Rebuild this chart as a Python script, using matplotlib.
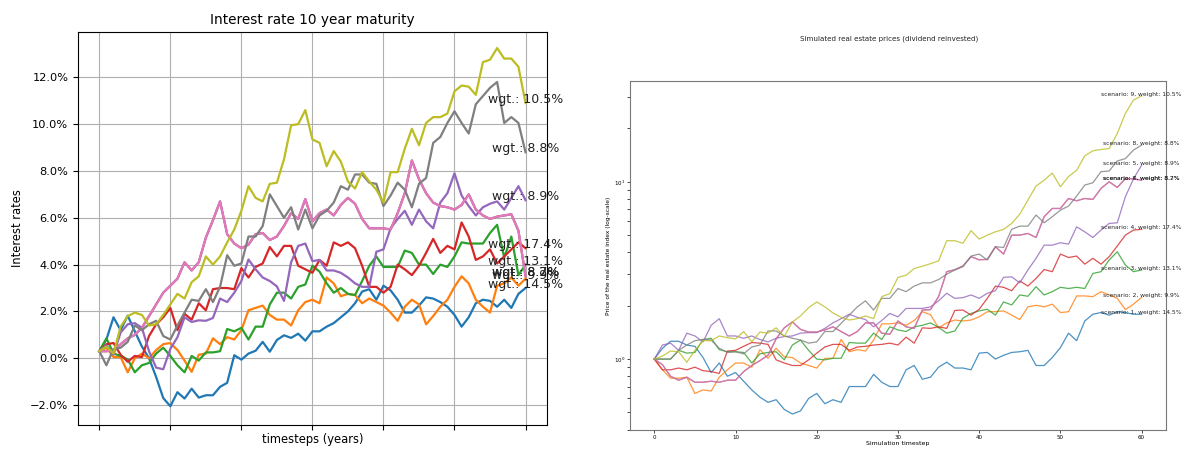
import numpy as np; import matplotlib.pyplot as plt
from matplotlib.ticker import PercentFormatter

t = np.arange(61)
W = [14.5, 9.9, 13.1, 17.4, 8.9, 8.7, 8.2, 8.8, 10.5]  # weight per scenario (%)

# interest rate 10y maturity (%), scenario 1..9
r1 = [0.3, 0.8, 1.75, 1.2, 1.82, 1.15, 0.5, 0.0, -0.8, -1.7, -2.05, -1.45, -1.72, -1.3, -1.68, -1.58, -1.58, -1.22, -1.05, 0.13,
      -0.06, 0.2, 0.32, 0.7, 0.28, 0.78, 0.98, 0.87, 1.05, 0.75, 1.15, 1.15, 1.35, 1.5, 1.75, 2.0, 2.35, 2.85, 2.95, 2.5,
      3.1, 2.9, 2.5, 1.95, 1.95, 2.25, 2.6, 2.55, 2.4, 2.2, 1.85, 1.35, 1.75, 2.35, 2.5, 2.45, 2.2, 2.5, 2.15, 2.75, 3.0]
r2 = [0.3, 0.45, 0.05, 0.05, -0.6, 0.0, 0.2, 0.0, 0.35, 0.6, 0.65, 0.35, -0.1, -0.58, 0.15, 0.2, 0.85, 0.6, 0.9, 0.8,
      1.2, 2.05, 2.15, 2.25, 1.85, 1.65, 1.65, 1.4, 2.05, 2.4, 2.5, 2.35, 3.45, 3.2, 2.65, 2.75, 2.7, 2.35, 2.55, 2.4,
      2.25, 1.95, 1.6, 2.2, 2.5, 2.3, 1.45, 1.8, 2.2, 2.5, 3.05, 3.5, 3.2, 2.5, 2.2, 1.95, 3.1, 3.2, 3.45, 3.1, 3.4]
r3 = [0.3, 0.85, 0.2, 0.1, -0.05, -0.6, -0.3, -0.2, 0.2, 0.45, 0.1, -0.3, -0.6, 0.1, -0.1, 0.25, 0.25, 0.3, 1.25, 1.15,
      1.3, 0.8, 1.35, 1.35, 2.3, 2.8, 2.8, 2.55, 3.05, 3.15, 3.95, 3.7, 3.2, 2.8, 3.0, 2.75, 2.7, 3.3, 3.95, 4.35,
      3.9, 3.9, 3.9, 4.6, 4.5, 4.0, 4.0, 3.6, 4.0, 3.9, 4.35, 4.95, 4.9, 4.9, 4.9, 5.35, 5.7, 4.3, 5.2, 3.55, 4.0]
r4 = [0.3, 0.6, 0.65, 0.15, -0.15, 0.1, 0.05, 0.95, 1.45, 1.75, 2.15, 1.2, 1.9, 1.65, 2.35, 2.05, 2.95, 3.0, 3.0, 2.95,
      3.85, 3.45, 3.9, 4.05, 4.75, 4.35, 4.8, 4.8, 3.95, 3.8, 3.65, 4.2, 3.95, 4.95, 4.8, 4.95, 4.7, 3.95, 3.05, 3.05,
      2.8, 3.05, 4.0, 3.8, 3.55, 3.95, 4.5, 5.1, 4.5, 4.8, 4.65, 5.8, 5.2, 4.2, 4.35, 4.65, 4.05, 4.35, 4.65, 4.95, 4.7]
r5 = [0.3, 0.55, 0.15, 1.1, 1.45, 1.5, 1.3, 0.3, -0.4, -0.47, 0.4, 0.9, 1.75, 1.55, 1.62, 1.6, 1.72, 2.55, 2.4, 2.8,
      3.3, 4.22, 3.8, 3.45, 3.3, 3.07, 2.45, 4.1, 4.8, 4.9, 4.15, 4.2, 3.75, 3.75, 3.65, 3.45, 3.2, 3.05, 3.05, 4.55,
      4.65, 5.55, 5.95, 6.3, 5.7, 6.35, 5.85, 5.55, 6.65, 7.05, 7.9, 6.95, 6.5, 6.1, 6.45, 6.6, 6.7, 6.35, 6.85, 7.35, 6.75]
r6 = r7 = [0.3, 0.3, 0.35, 0.6, 0.85, 1.0, 1.3, 1.8, 2.3, 2.8, 3.1, 3.4, 4.1, 3.75, 4.1, 5.15, 5.9, 6.7, 5.3, 4.9,
      4.7, 4.85, 5.3, 5.35, 5.05, 5.2, 5.65, 6.2, 5.95, 6.8, 5.85, 6.2, 6.35, 6.1, 6.55, 6.85, 6.6, 5.95, 5.55, 5.55,
      5.55, 5.5, 6.2, 7.05, 8.45, 7.65, 7.05, 6.65, 6.5, 6.45, 6.35, 6.55, 7.0, 6.35, 6.1, 5.95, 6.05, 6.1, 6.15, 5.45, 3.5]
r8 = [0.3, -0.3, 0.4, 0.45, 0.7, 1.4, 1.2, 1.45, 1.6, 0.95, 0.8, 1.4, 1.95, 2.5, 2.45, 2.95, 2.4, 3.05, 4.4, 3.95,
      4.05, 5.2, 5.2, 5.65, 7.0, 6.5, 6.0, 6.45, 5.5, 6.35, 5.55, 6.1, 6.3, 6.65, 7.35, 7.2, 7.85, 7.85, 7.5, 7.45,
      6.5, 6.95, 7.5, 7.2, 6.45, 7.45, 7.7, 9.2, 9.45, 10.05, 10.55, 10.05, 9.6, 10.85, 11.2, 11.55, 11.8, 10.05, 10.3, 10.05, 8.8]
r9 = [0.3, 0.5, 0.2, 1.35, 1.8, 1.95, 1.85, 1.4, 1.45, 1.85, 2.3, 2.75, 2.55, 3.25, 3.5, 4.35, 4.0, 4.35, 4.95, 5.5,
      6.3, 7.35, 6.85, 6.7, 7.45, 7.5, 8.5, 9.95, 10.0, 10.6, 9.35, 9.2, 8.2, 8.85, 8.4, 7.55, 7.25, 7.95, 7.55, 7.2,
      6.65, 7.95, 7.95, 8.95, 9.8, 9.1, 10.05, 10.3, 10.3, 10.45, 11.4, 11.65, 11.6, 11.25, 12.65, 12.75, 13.25, 12.8, 12.8, 12.45, 10.9]

# real estate index (dividend reinvested), scenario 1..9
p1 = [1.0, 1.15, 1.26, 1.26, 1.2, 1.18, 1.02, 0.84, 0.95, 0.8, 0.84, 0.75, 0.67, 0.61, 0.57, 0.59, 0.52, 0.49, 0.51, 0.6,
      0.64, 0.56, 0.59, 0.57, 0.7, 0.7, 0.7, 0.82, 0.74, 0.7, 0.7, 0.87, 0.92, 0.77, 0.79, 0.9, 0.96, 0.89, 0.89, 0.87,
      1.08, 1.09, 1.0, 1.05, 1.09, 1.1, 1.12, 0.92, 0.92, 1.02, 1.16, 1.4, 1.27, 1.64, 1.79, 1.83, 1.77, 1.85, 1.83, 1.79, 1.79]
p2 = [1.0, 0.87, 0.78, 0.78, 0.79, 0.64, 0.67, 0.66, 0.79, 0.87, 0.95, 0.95, 0.9, 1.13, 1.01, 1.15, 1.03, 1.02, 0.95, 0.92,
      0.89, 1.01, 1.01, 1.29, 1.1, 1.13, 1.11, 1.28, 1.58, 1.58, 1.6, 1.55, 1.65, 1.85, 1.78, 1.5, 1.6, 1.66, 1.64, 1.66,
      1.73, 1.85, 1.85, 1.87, 1.77, 1.67, 1.97, 2.01, 1.97, 2.04, 1.83, 1.85, 2.27, 2.27, 2.25, 2.4, 2.3, 2.2, 1.9, 2.04, 2.23]
p3 = [1.0, 1.0, 1.0, 1.12, 1.08, 1.09, 1.29, 1.31, 1.13, 1.1, 1.1, 1.09, 0.95, 1.07, 1.09, 1.1, 0.99, 1.2, 1.28, 1.12,
      1.0, 0.99, 1.01, 1.01, 1.24, 1.23, 1.23, 1.4, 1.29, 1.52, 1.46, 1.43, 1.52, 1.55, 1.6, 1.51, 1.4, 1.44, 1.7, 1.81,
      1.87, 1.91, 1.77, 2.1, 2.02, 2.3, 2.26, 2.56, 2.3, 2.4, 2.54, 2.5, 2.54, 2.5, 3.04, 3.11, 3.62, 4.03, 3.39, 3.11, 3.18]
p4 = [1.0, 0.87, 0.87, 0.89, 0.87, 0.9, 0.86, 0.85, 0.83, 1.11, 1.12, 1.18, 1.24, 1.23, 1.21, 0.99, 0.95, 0.92, 0.92, 0.99,
      1.08, 1.17, 1.21, 1.21, 1.12, 1.17, 1.18, 1.2, 1.21, 1.23, 1.2, 1.33, 1.23, 1.5, 1.49, 1.52, 1.49, 1.88, 1.89, 1.77,
      1.91, 2.2, 2.58, 2.54, 2.43, 2.76, 2.58, 2.85, 3.2, 3.11, 3.91, 3.74, 3.81, 3.43, 3.7, 3.43, 3.78, 4.34, 5.0, 5.34, 5.39]
p5 = [1.0, 1.2, 1.23, 1.12, 1.4, 1.35, 1.25, 1.55, 1.69, 1.35, 1.35, 1.31, 1.35, 1.29, 1.25, 1.31, 1.34, 1.35, 1.4, 1.41,
      1.41, 1.49, 1.6, 1.69, 1.79, 1.72, 1.67, 1.52, 1.65, 1.81, 1.73, 1.93, 1.93, 1.93, 1.97, 2.13, 2.35, 2.2, 2.22, 2.3,
      2.2, 2.35, 2.43, 2.89, 2.91, 2.69, 3.18, 3.7, 4.39, 4.39, 4.53, 4.45, 5.57, 5.22, 4.85, 5.34, 5.82, 5.87, 8.23, 10.4, 12.4]
p6 = p7 = [1.0, 0.93, 0.8, 0.76, 0.79, 0.74, 0.74, 0.75, 0.74, 0.76, 0.76, 0.85, 0.92, 0.98, 1.05, 1.3, 1.5, 1.62, 1.47, 1.42,
      1.42, 1.46, 1.52, 1.43, 1.35, 1.43, 1.6, 1.6, 1.4, 1.38, 1.64, 1.52, 1.49, 1.89, 1.9, 2.25, 3.11, 3.19, 3.35, 3.78,
      3.63, 3.65, 4.3, 3.91, 5.0, 5.0, 5.11, 4.85, 6.35, 7.07, 7.07, 8.05, 7.81, 8.05, 7.95, 9.17, 10.0, 9.29, 10.4, 10.4, 10.2]
p8 = [1.0, 1.0, 1.0, 1.12, 1.2, 1.27, 1.29, 1.28, 1.15, 1.09, 1.1, 1.07, 1.17, 1.2, 1.44, 1.44, 1.35, 1.31, 1.28, 1.23,
      1.25, 1.43, 1.43, 1.59, 1.77, 1.97, 2.13, 1.89, 2.2, 2.2, 2.5, 2.4, 2.58, 2.69, 2.69, 2.81, 3.01, 3.18, 3.32, 3.81,
      3.91, 3.62, 4.3, 4.26, 5.39, 5.62, 5.62, 6.49, 5.87, 6.35, 6.92, 7.29, 8.3, 9.58, 9.87, 11.4, 11.5, 13.1, 13.5, 15.1, 16.1]
p9 = [1.0, 1.04, 1.11, 1.1, 0.96, 1.12, 1.27, 1.27, 1.35, 1.32, 1.3, 1.43, 1.25, 1.42, 1.4, 1.5, 1.34, 1.62, 1.75, 1.95,
      2.1, 1.97, 1.82, 1.72, 1.66, 1.69, 1.75, 1.69, 2.25, 2.34, 2.89, 2.97, 3.24, 3.34, 3.45, 3.58, 4.65, 4.65, 4.5, 5.3,
      4.75, 5.0, 5.22, 5.39, 5.82, 6.57, 7.88, 9.46, 10.2, 11.2, 9.37, 10.7, 11.6, 14.0, 14.95, 15.2, 15.4, 18.7, 24.3, 28.9, 30.5]

R = [r1, r2, r3, r4, r5, r6, r7, r8, r9]
P = [p1, p2, p3, p4, p5, p6, p7, p8, p9]

fig = plt.figure(figsize=(11.87, 4.5), dpi=100)
a1 = fig.add_axes([0.0657, 0.0556, 0.395, 0.873])
a2 = fig.add_axes([0.5307, 0.0444, 0.4516, 0.7756])

# left: interest rates
for i, (r, w) in enumerate(zip(R, W)):
	a1.plot(t, r, color=f'C{i}', lw=1.6)
	a1.text(60, r[-1], f'wgt.: {w}%', ha='center', fontsize=9, color='#222')
a1.set_title('Interest rate 10 year maturity', fontsize=9.8)
a1.set_xlabel('timesteps (years)', fontsize=8.3, labelpad=-1); a1.set_ylabel('Interest rates', fontsize=8.3)
a1.set_xticks(range(0, 61, 10)); a1.set_xticklabels([])
a1.set_ylim(-2.85, 13.93)
a1.yaxis.set_major_formatter(PercentFormatter(decimals=1))
a1.tick_params(labelsize=8.2); a1.grid(True)

# right: real estate prices, log scale
for i, (p, w) in enumerate(zip(P, W)):
	a2.semilogy(t, p, color=f'C{i}', lw=0.9, alpha=0.8)
	a2.text(60, p[-1], f'scenario: {i+1}, weight: {w}%', ha='center', fontsize=4.3, color='#222')
fig.text(889/1187, 1-39/450, 'Simulated real estate prices (dividend reinvested)', ha='center', va='center', fontsize=5.1, color='#222')
a2.set_xlabel('Simulation timestep', fontsize=4.5, labelpad=1)
a2.set_ylabel('Price of the real estate index (log-scale)', fontsize=4.2, labelpad=2)
a2.set_ylim(0.398, 37)
a2.tick_params(which='both', labelsize=4, length=2, width=0.5, pad=1.5)
for s in a2.spines.values(): s.set_color('#777'); s.set_linewidth(0.8)

plt.savefig('out.png')
